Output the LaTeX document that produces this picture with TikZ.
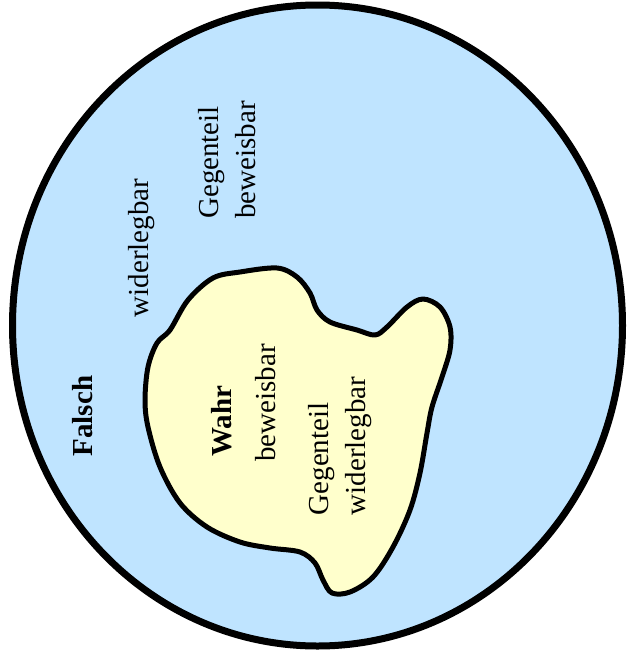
\documentclass[tikz,border=0pt]{standalone}
\usepackage{fontspec}
\setmainfont{Liberation Serif}
\definecolor{skyfill}{HTML}{BFE4FF}
\definecolor{wahrfill}{HTML}{FFFFCC}
\begin{document}
\begin{tikzpicture}[x=1pt,y=-1pt,
  lbl/.style={rotate=90,inner sep=0pt,font=\fontsize{29}{37}\selectfont,align=left},
  blbl/.style={lbl,font=\fontsize{29}{37}\selectfont\bfseries}]
\useasboundingbox (0,0) rectangle (628,664);
\path[draw=black,line width=7pt,fill=skyfill] (317.5,325.5) ellipse [x radius=305, y radius=320.5];
\draw[line width=5pt,fill=wahrfill,line join=round]
  plot[smooth cycle,tension=0.55] coordinates {
  (170,330) (188,300) (213,278) (240,272) (277,268) (297,277) (310,293) (317,310)
  (330,322) (357,330) (375,335) (387,327) (407,307) (423,299) (440,307) (450,327)
  (450,350) (442,377) (432,407) (427,433) (420,473) (410,510) (393,547) (373,577)
  (350,592) (332,593) (323,580) (315,563) (300,552) (270,548) (240,542) (207,527)
  (180,503) (160,467) (148,427) (145,400) (148,367) (157,343)};
\node[blbl] (falsch) at (83,416) {Falsch};
\node[lbl] (wid) at (142,248) {widerlegbar};
\node[lbl] (gegbew) at (227,160) {Gegenteil\\beweisbar};
\node[blbl] (wahr) at (222,421) {Wahr};
\node[lbl] (bew) at (266,403) {beweisbar};
\node[lbl] (gegwid) at (340,446) {Gegenteil\\widerlegbar};
\end{tikzpicture}
\end{document}
